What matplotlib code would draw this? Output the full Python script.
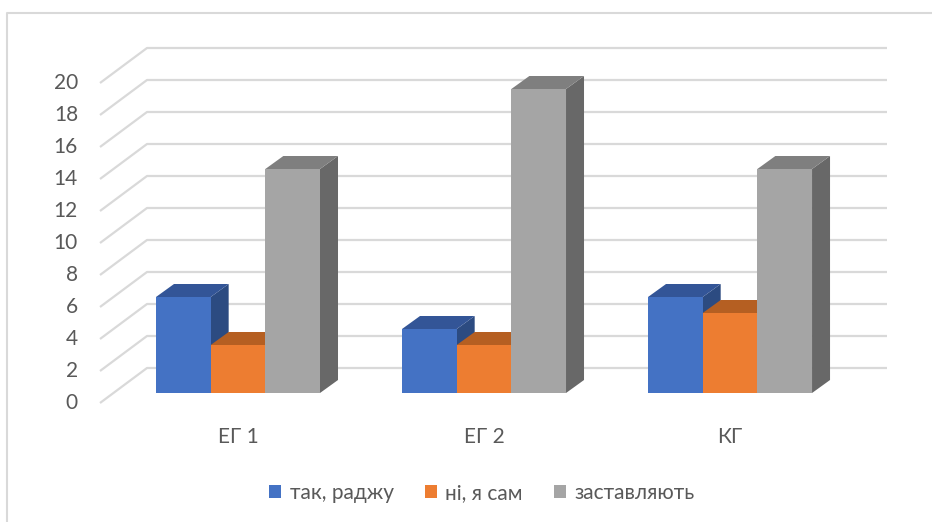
import matplotlib
matplotlib.use("Agg")
import matplotlib.pyplot as plt
from matplotlib.patches import Patch
from matplotlib.lines import Line2D

# data
categories = ['ЕГ 1', 'ЕГ 2', 'КГ']
series = ['так, раджу', 'ні, я сам', 'заставляють']
tak = [6, 4, 6]
ni = [3, 3, 5]
zastav = [14, 19, 14]
yticks = list(range(0, 21, 2))

# colours: front, top, side
front_c = ['#4472C4', '#ED7D31', '#A5A5A5']
top_c = ['#335597', '#B55F22', '#7F7F7F']
side_c = ['#2C4B81', '#9E521D', '#686868']

plt.rcParams['font.family'] = ['Lato', 'DejaVu Sans']
txt_col = '#595959'
grid_col = '#D9D9D9'
fs = 15

fig = plt.figure(figsize=(9.32, 5.22), dpi=100)
ax = fig.add_axes([0, 0, 1, 1])
ax.axis('off')

# one x unit = one bar width (~54.7 px), one y unit = 16 px
bw_px = 54.67
ax.set_xlim((0 - 238) / bw_px, (932 - 238) / bw_px)
ax.set_ylim((393 - 522) / 16, 393 / 16)

group_gap = 4.5
depth_dx, depth_dy = 18 / bw_px, 13 / 16

# back wall gridlines with the diagonal floor edge
wall_front_x, wall_back_x, wall_right_x = (100 - 238) / bw_px, (147 - 238) / bw_px, (887 - 238) / bw_px
front_off, back_off = -10 / 16, 25 / 16
for v in yticks:
    ax.plot([wall_front_x, wall_back_x, wall_right_x],
            [v + front_off, v + back_off, v + back_off],
            color=grid_col, lw=1.6, solid_capstyle='butt', zorder=1)
    ax.text((78 - 238) / bw_px, v + front_off, str(v), ha='right', va='center',
            fontsize=fs, color=txt_col)

# bars, drawn left to right so each side face gets covered by the next bar
values = [tak, ni, zastav]
for g, cat in enumerate(categories):
    center = g * group_gap
    for k in range(3):
        h = values[k][g]
        x0 = center + (k - 1.5)
        x1 = x0 + 1
        ax.fill([x1, x1 + depth_dx, x1 + depth_dx, x1],
                [0, depth_dy, h + depth_dy, h], color=side_c[k], lw=0, zorder=2)
        ax.fill([x0, x1, x1 + depth_dx, x0 + depth_dx],
                [h, h, h + depth_dy, h + depth_dy], color=top_c[k], lw=0, zorder=2)
        ax.fill([x0, x1, x1, x0], [0, 0, h, h], color=front_c[k], lw=0, zorder=2)
    ax.text(center, -2.75, cat, ha='center', va='center', fontsize=fs, color=txt_col)

handles = [Patch(facecolor=c, edgecolor='none') for c in front_c]
fig.legend(handles, series, loc='center', bbox_to_anchor=(482 / 932, 1 - 493 / 522),
           ncol=3, frameon=False, fontsize=fs, labelcolor=txt_col,
           handlelength=0.58, handleheight=0.58, handletextpad=0.4,
           columnspacing=1.5)

# chart frame (top and left edges visible)
fig.add_artist(Line2D([7 / 932, 7 / 932, 1], [0, 1 - 12.5 / 522, 1 - 12.5 / 522],
                      transform=fig.transFigure, color=grid_col, lw=1.5))

fig.savefig('out.png', dpi=100)
